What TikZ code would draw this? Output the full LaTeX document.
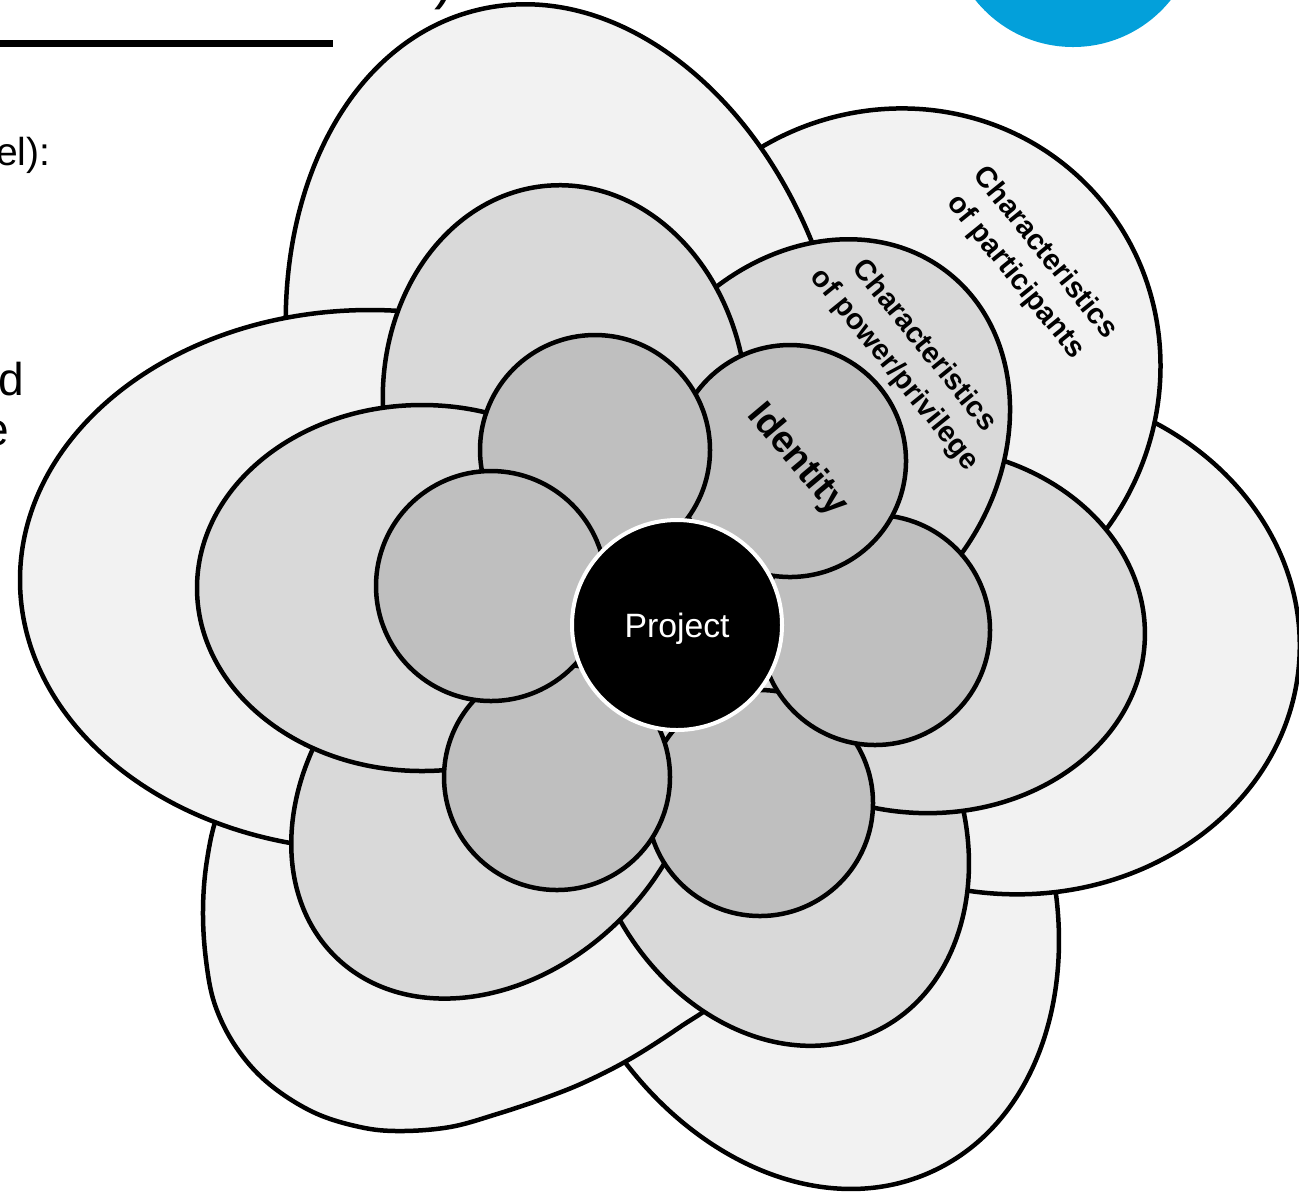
\documentclass[tikz,border=0pt]{standalone}
\usepackage{fontspec}
\setmainfont{Liberation Sans}
\usetikzlibrary{positioning}
\definecolor{petalLight}{HTML}{F2F2F2}
\definecolor{petalMid}{HTML}{D9D9D9}
\definecolor{petalDark}{HTML}{BFBFBF}
\definecolor{brandBlue}{HTML}{03A0DA}

\begin{document}
\begin{tikzpicture}[
  x=0.1mm, y=-0.1mm,
  every node/.style={inner sep=0pt},
  petal/.style={draw=black, line width=0.45mm},
  outer/.style={petal, fill=petalLight},
  middle/.style={petal, fill=petalMid},
  inner/.style={petal, fill=petalDark},
  ring/.style={font=\bfseries\fontsize{8.3}{10.8}\selectfont, align=center, rotate=-51},
  cut text/.style={anchor=base east}
]
\useasboundingbox (0,0) rectangle (1299,1196);

\fill[brandBlue] (1073,-78) circle [radius=125];
\draw[line width=0.75mm] (0,43.5) -- (333,43.5);
\node[cut text, font=\fontsize{17}{20}\selectfont] (title) at (455,-3) {)};
\node[cut text, font=\fontsize{11.1}{13}\selectfont] (lineA) at (51,165) {el):};
\node[cut text, font=\fontsize{13.1}{15}\selectfont] (lineB) at (25,395) {d};
\node[cut text, font=\fontsize{13.1}{15}\selectfont] (lineC) at (10,445) {e};

% outer ring
\draw[outer, rotate around={-66:(800,880)}] (800,880) ellipse [x radius=320, y radius=245];
\draw[outer, rotate around={-5:(1010,640)}] (1010,640) ellipse [x radius=290, y radius=254];
\draw[outer, rotate around={42.4:(892,376)}] (892,376) ellipse [x radius=273, y radius=263];
\draw[outer, rotate around={104:(568,379)}] (568,379) ellipse [x radius=380, y radius=275];
\draw[outer] plot[smooth cycle, tension=0.6] coordinates {(219,810) (207,860) (203,910)
  (206,960) (215,1005) (236,1047) (268,1083) (313,1112) (360,1127) (400,1131) (450,1127)
  (497,1114) (545,1098) (585,1082) (630,1059) (680,1027) (722,996) (760,940) (770,850)
  (720,740) (600,660) (450,640) (320,670) (250,740)};
\draw[outer] (370,580) ellipse [x radius=350, y radius=270];

% middle ring
\draw[middle, rotate around={-64:(776,824)}] (776,824) ellipse [x radius=230, y radius=183];
\draw[middle, rotate around={-3:(923,630)}] (923,630) ellipse [x radius=222, y radius=183];
\draw[middle, rotate around={53:(812,448)}] (812,448) ellipse [x radius=222, y radius=183];
\draw[middle, rotate around={94.5:(565,405)}] (565,405) ellipse [x radius=220, y radius=182];
\draw[middle, rotate around={-134:(496,792)}] (496,792) ellipse [x radius=230, y radius=178];
\draw[middle] (422,588) ellipse [x radius=225, y radius=183];

% inner ring
\foreach \px/\py/\r in {760/803/113, 875/630/115, 790/461/116, 595/450/115, 557/777/113, 491/586/115}
  \draw[inner] (\px,\py) circle [radius=\r];

\node[circle, fill=black, draw=white, line width=0.4mm, minimum size=21mm, text=white,
  text depth=0pt, font=\fontsize{9.6}{11}\selectfont] (project) at (677,625) {Project};

\node[font=\bfseries\fontsize{10.7}{12}\selectfont, rotate=-50] (identity) at (797,460) {Identity};
\node[ring] (power) at (909,358) {Characteristics\\of power/privilege};
\node[ring] (participants) at (1030,265) {Characteristics\\of participants};
\end{tikzpicture}
\end{document}
